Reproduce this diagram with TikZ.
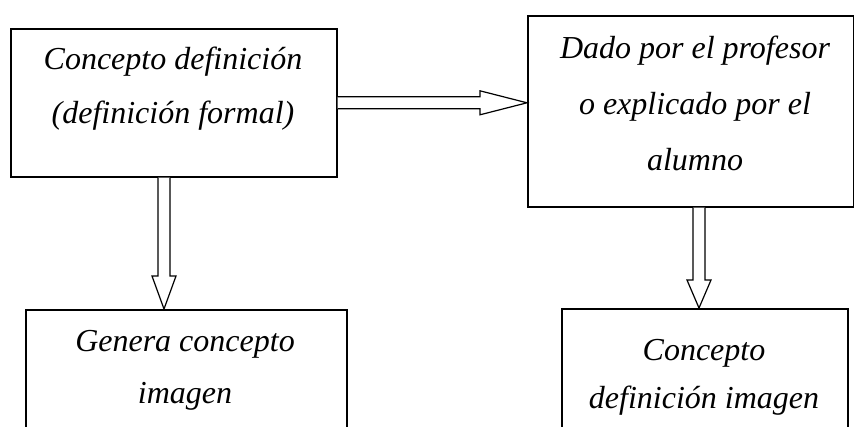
\documentclass[tikz,border=0pt]{standalone}
\usepackage{fontspec}
\setmainfont{Liberation Serif}
\usetikzlibrary{calc}
\begin{document}
\begin{tikzpicture}[x=1pt,y=-1pt,
  box/.style={draw, line width=1.6pt, rectangle, inner sep=0pt, anchor=north west},
  lbl/.style={font=\fontsize{32}{54}\selectfont\itshape, align=center, anchor=base, inner sep=0pt},
  fat/.style={draw, line width=1.2pt, fill=white, line join=miter}]
\useasboundingbox (0,0) rectangle (854,426);
\clip (0,0) rectangle (854,426);
% boxes
\node[box, minimum width=326pt, minimum height=148pt] (a) at (10,28) {};
\node[box, minimum width=326pt, minimum height=191pt] (b) at (527,15) {};
\node[box, minimum width=321pt, minimum height=150pt] (c) at (25,309) {};
\node[box, minimum width=286pt, minimum height=150pt] (d) at (561,308) {};
% texts (anchor = baseline of last line)
\node[lbl] (ta) at (173,123) {Concepto definición\\(definición formal)};
\node[lbl, font=\fontsize{32}{56}\selectfont\itshape] (tb) at (695,170) {Dado por el profesor\\o explicado por el\\alumno};
\node[lbl, font=\fontsize{32}{52}\selectfont\itshape] (tc) at (185,403) {Genera concepto\\imagen};
\node[lbl, font=\fontsize{32}{48}\selectfont\itshape] (td) at (704,408) {Concepto\\definición imagen};
% arrow anchors
\coordinate (lx) at (164,0);
\coordinate (rx) at (699,0);
% horizontal arrow a -> b
\draw[fat] ($(a.east)+(0,-6)$) -- ($(b.west |- a.east)+(-47,-6)$) -- ($(b.west |- a.east)+(-47,-12)$)
  -- (b.west |- a.east) -- ($(b.west |- a.east)+(-47,12)$) -- ($(b.west |- a.east)+(-47,6)$) -- ($(a.east)+(0,6)$);
% vertical arrow a -> c
\draw[fat] ($(a.south -| lx)+(-6,0)$) -- ($(c.north -| lx)+(-6,-33)$) -- ($(c.north -| lx)+(-12,-33)$)
  -- (c.north -| lx) -- ($(c.north -| lx)+(12,-33)$) -- ($(c.north -| lx)+(6,-33)$) -- ($(a.south -| lx)+(6,0)$);
% vertical arrow b -> d
\draw[fat] ($(b.south -| rx)+(-6,0)$) -- ($(d.north -| rx)+(-6,-28)$) -- ($(d.north -| rx)+(-12,-28)$)
  -- (d.north -| rx) -- ($(d.north -| rx)+(12,-28)$) -- ($(d.north -| rx)+(6,-28)$) -- ($(b.south -| rx)+(6,0)$);
\end{tikzpicture}
\end{document}
